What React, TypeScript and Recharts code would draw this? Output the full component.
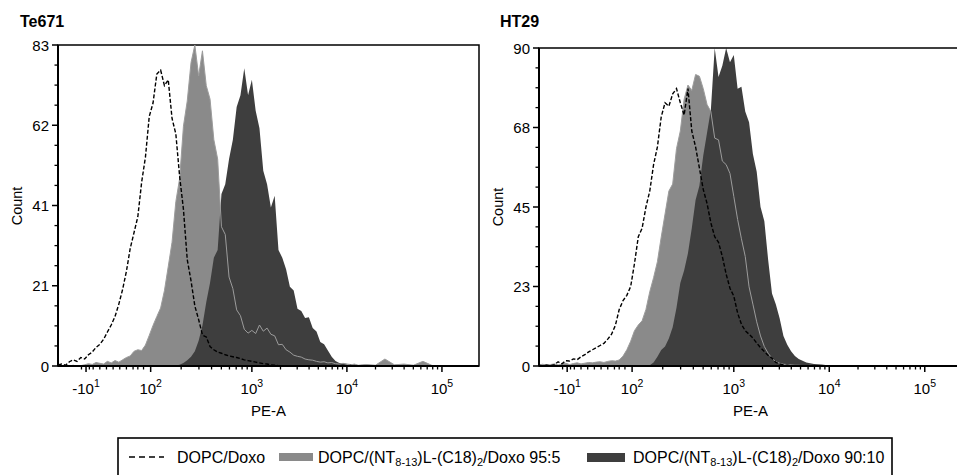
import React from "react";
import { ComposedChart, Area, Line, XAxis, YAxis, ReferenceArea } from "recharts";

const FONT = "'Liberation Sans', Arial, Helvetica, sans-serif";

// display position of each histogram bin (decade units of the PE-A axis)
const binPos = [
  0.96, 1.0, 1.04, 1.08, 1.12, 1.16, 1.2, 1.24, 1.28, 1.32,
  1.36, 1.4, 1.44, 1.48, 1.52, 1.56, 1.6, 1.64, 1.68, 1.72,
  1.76, 1.8, 1.84, 1.88, 1.92, 1.96, 2.0, 2.04, 2.08, 2.12,
  2.16, 2.2, 2.24, 2.28, 2.32, 2.36, 2.4, 2.44, 2.48, 2.52,
  2.56, 2.6, 2.64, 2.68, 2.72, 2.76, 2.8, 2.84, 2.88, 2.92,
  2.96, 3.0, 3.04, 3.08, 3.12, 3.16, 3.2, 3.24, 3.28, 3.32,
  3.36, 3.4, 3.44, 3.48, 3.52, 3.56, 3.6, 3.64, 3.68, 3.72,
  3.76, 3.8, 3.84, 3.88, 3.92, 3.96, 4.0, 4.04, 4.08, 4.12,
  4.16, 4.2, 4.3, 4.4, 4.5, 4.6, 4.7, 4.8, 4.9, 5.0,
  5.1, 5.2, 5.3, 5.39,
];

// Te671 counts
const te671Doxo = [
  0.3, 0.5, 0.2, 1.1, 1.6, 1.2, 2.2, 1.8, 2.9, 3.6,
  4.8, 5.6, 6.9, 8.8, 10.6, 12.8, 16.0, 19.8, 24.5, 30.4,
  34.5, 38.6, 47.5, 54.0, 64.5, 68.0, 75.5, 76.5, 72.5, 74.0,
  64.0, 60.0, 49.0, 40.5, 27.5, 22.0, 15.5, 12.0, 8.0, 7.5,
  5.0, 4.2, 3.6, 3.3, 2.9, 2.6, 2.4, 2.2, 1.9, 1.6,
  1.4, 1.2, 1.0, 0.8, 0.6, 0.5, 0.3, 0.2, 0.1, 0,
  null, null, null, null, null, null, null, null, null, null,
  null, null, null, null, null, null, null, null, null, null,
  null, null, null, null, null, null, null, null, null, null,
  null, null, null, null,
];
const te671Mix95 = [
  0, 0, 0, 0, 0.2, 0, 0.1, 0.3, 0.6, 0.4,
  0.9, 0.7, 0.5, 1.2, 0.8, 1.4, 1.0, 1.6, 2.2, 2.6,
  3.8, 4.2, 4.0, 5.4, 7.9, 10.5, 12.8, 15.0, 19.5, 25.7,
  32.0, 42.5, 48.5, 62.0, 68.5, 78.5, 83.0, 75.0, 81.5, 72.5,
  69.0, 58.5, 53.5, 36.0, 34.0, 23.0, 20.0, 14.5, 13.0, 9.5,
  8.5, 9.2, 8.4, 10.6, 9.0, 9.8, 8.2, 7.8, 5.5, 5.6,
  4.2, 3.6, 2.8, 2.5, 2.3, 1.8, 1.6, 1.5, 1.2, 1.0,
  1.1, 0.8, 0.9, 0.6, 0.5, 0.7, 0.4, 0.3, 0.5, 0.2,
  0.3, 0.4, 0.2, 1.8, 0.3, 0.5, 0.2, 1.2, 0.1, 0,
  0, 0, 0, 0,
];
const te671Mix90 = [
  0, 0, 0, 0, 0, 0, 0, 0, 0, 0,
  0, 0, 0, 0, 0, 0, 0, 0, 0, 0,
  0, 0, 0, 0, 0, 0, 0.1, 0, 0.2, 0.1,
  0.2, 0.1, 0.3, 0.8, 1.5, 2.4, 3.8, 6.5, 10.5, 16.5,
  21.5, 28.0, 30.0, 44.5, 47.0, 53.5, 58.5, 67.0, 70.0, 77.0,
  70.0, 74.0, 66.0, 61.5, 50.5, 47.0, 41.0, 44.0, 30.0, 28.0,
  25.0, 20.5, 19.5, 14.8, 14.2, 12.4, 12.6, 9.8, 8.9, 6.2,
  5.6, 4.0, 2.4, 1.3, 0.8, 0.7, 0.6, 0.5, 0.3, 0.2,
  0.1, 0.1, 0, 0, 0, 0, 0, 0, 0, 0,
  0, 0, 0, 0,
];

// HT29 counts
const ht29Doxo = [
  0.2, 0, 0.3, 0.1, 0.4, 1.2, 0.6, 1.5, 1.4, 2.0,
  1.8, 2.6, 3.2, 4.0, 4.6, 5.2, 5.8, 6.4, 7.6, 9.0,
  11.5, 16.0, 18.5, 20.0, 22.5, 29.0, 36.6, 39.0, 45.0, 49.5,
  57.0, 62.0, 70.5, 74.5, 73.5, 77.0, 78.5, 74.5, 71.0, 78.5,
  66.5, 62.0, 56.0, 50.0, 46.0, 40.5, 36.6, 35.0, 31.0, 26.0,
  22.0, 19.8, 15.0, 11.8, 10.0, 9.0, 7.9, 6.5, 5.2, 4.1,
  3.0, 2.2, 1.0, 0.6, 0.3, 0.2, 0.1, null, null, null,
  null, null, null, null, null, null, null, null, null, null,
  null, null, null, null, null, null, null, null, null, null,
  null, null, null, null,
];
const ht29Mix95 = [
  0.3, 0.5, 0.2, 0.4, 0.6, 0.3, 0.5, 0.8, 0.4, 0.7,
  0.9, 0.6, 0.8, 1.0, 0.9, 1.1, 1.2, 1.0, 1.3, 1.5,
  1.4, 1.7, 2.8, 4.6, 7.0, 10.0, 11.6, 12.8, 16.0, 21.0,
  25.0, 29.5, 36.5, 43.0, 49.5, 51.5, 61.5, 66.5, 75.5, 79.5,
  78.0, 82.5, 82.0, 78.5, 74.0, 72.0, 64.5, 64.0, 58.0, 57.0,
  54.5, 48.0, 41.5, 36.0, 31.0, 22.4, 17.5, 12.5, 8.5, 5.5,
  3.6, 2.2, 1.2, 0.8, 0.5, 0.4, 0.3, 0.2, 0.2, 0.1,
  0.1, 0.2, 0.1, 0.1, 0, 0.1, 0, 0, 0, 0,
  0, 0, 0, 0, 0, 0, 0, 0, 0, 0,
  0, 0, 0, 0,
];
const ht29Mix90 = [
  0, 0, 0, 0, 0, 0, 0, 0, 0, 0,
  0, 0, 0, 0, 0, 0, 0, 0, 0, 0,
  0, 0, 0, 0, 0, 0, 0, 0, 0, 0.2,
  1.0, 2.6, 4.5, 5.5, 7.8, 11.0, 16.5, 23.5, 27.0, 31.9,
  39.0, 47.0, 51.0, 59.5, 66.0, 72.5, 90.0, 81.8, 85.0, 90.0,
  86.0, 88.0, 78.5, 79.0, 72.0, 69.0, 60.0, 55.0, 45.0, 41.0,
  30.0, 20.5, 17.5, 13.5, 8.5, 6.0, 4.2, 2.8, 2.0, 1.5,
  1.0, 0.8, 0.6, 0.5, 0.4, 0.3, 0.2, 0.2, 0.1, 0,
  0, 0, 0, 0, 0, 0, 0, 0, 0, 0,
  0, 0, 0, 0,
];

// axis ticks
const xDomain = [0.96, 5.39];
const xMajorTicks = [1.255, 1.935, 3, 4, 5];
const xTickBase = ["-10", "10", "10", "10", "10"];
const xTickExp = ["1", "2", "3", "4", "5"];
const xMinorTicks = [
  1.207, 1.29, 1.33, 1.4, 1.47, 1.54, 1.61, 1.68, 1.75, 1.8, 1.86,
  2.256, 2.443, 2.576, 2.679, 2.764, 2.835, 2.897, 2.951,
  3.301, 3.477, 3.602, 3.699, 3.778, 3.845, 3.903, 3.954,
  4.301, 4.477, 4.602, 4.699, 4.778, 4.845, 4.903, 4.954,
];

const teYMajor = [0, 20.75, 41.5, 62.25, 83];
const teYLabels = ["0", "21", "41", "62", "83"];
const teYMinor = [5.19, 10.38, 15.56, 25.94, 31.13, 36.31, 46.69, 51.88, 57.06, 67.44, 72.63, 77.81];
const htYMajor = [0, 22.5, 45, 67.5, 90];
const htYLabels = ["0", "23", "45", "68", "90"];
const htYMinor = [5.63, 11.25, 16.88, 28.13, 33.75, 39.38, 50.63, 56.25, 61.88, 73.13, 78.75, 84.38];

const GRAY = "#8a8a8a";
const DARK = "#3e3e3e";
const GRAY_EDGE = "#9c9c9c";

const XTick = (props: any) => {
  const { x, y, payload } = props;
  const idx = xMajorTicks.indexOf(payload.value);
  if (idx < 0) {
    return <line x1={x} x2={x} y1={y} y2={y + 3.5} stroke="#000" strokeWidth={1.3} />;
  }
  return (
    <g>
      <line x1={x} x2={x} y1={y} y2={y + 6} stroke="#000" strokeWidth={1.5} />
      <text x={x} y={y + 28} textAnchor="middle" fontSize={15} fontFamily={FONT} fill="#000">
        <tspan>{xTickBase[idx]}</tspan>
        <tspan fontSize={10.5} dy={-7.5}>{xTickExp[idx]}</tspan>
      </text>
    </g>
  );
};

const makeYTick = (major: number[], labels: string[]) => (props: any) => {
  const { x, y, payload } = props;
  const idx = major.indexOf(payload.value);
  if (idx < 0) {
    return <line x1={x - 3.5} x2={x} y1={y} y2={y} stroke="#000" strokeWidth={1.3} />;
  }
  return (
    <g>
      <line x1={x - 6} x2={x} y1={y} y2={y} stroke="#000" strokeWidth={1.5} />
      <text x={x - 9} y={y + 5.5} textAnchor="end" fontSize={15} fontFamily={FONT} fill="#000">
        {labels[idx]}
      </text>
    </g>
  );
};

type PanelProps = {
  doxo: (number | null)[];
  mix95: number[];
  mix90: number[];
  yMax: number;
  yMajor: number[];
  yLabels: string[];
  yMinor: number[];
  width: number;
  yAxisWidth: number;
  top: number;
  right: number;
};

const Panel = (p: PanelProps) => {
  const data = binPos.map((x, i) => ({ x, doxo: p.doxo[i], g95: p.mix95[i], g90: p.mix90[i] }));
  const xTicks = [...xMajorTicks, ...xMinorTicks].sort((a, b) => a - b);
  const yTicks = [...p.yMajor, ...p.yMinor].sort((a, b) => a - b);
  return (
    <ComposedChart
      width={p.width}
      height={475}
      data={data}
      margin={{ top: p.top, right: p.right, bottom: 79, left: 0 }}
    >
      <XAxis
        dataKey="x"
        type="number"
        domain={xDomain}
        allowDataOverflow
        ticks={xTicks}
        interval={0}
        tickSize={0}
        tickMargin={0}
        tickLine={false}
        tick={XTick}
        height={30}
        axisLine={{ stroke: "#000", strokeWidth: 2 }}
      />
      <YAxis
        type="number"
        domain={[0, p.yMax]}
        allowDataOverflow
        ticks={yTicks}
        interval={0}
        tickSize={0}
        tickMargin={0}
        tickLine={false}
        tick={makeYTick(p.yMajor, p.yLabels)}
        width={p.yAxisWidth}
        axisLine={{ stroke: "#000", strokeWidth: 2 }}
      />
      <Area
        dataKey="g95"
        type="linear"
        fill={GRAY}
        fillOpacity={1}
        stroke="none"
        dot={false}
        activeDot={false}
        isAnimationActive={false}
      />
      <Area
        dataKey="g90"
        type="linear"
        fill={DARK}
        fillOpacity={1}
        stroke="none"
        dot={false}
        activeDot={false}
        isAnimationActive={false}
      />
      <Line
        dataKey="g95"
        type="linear"
        stroke={GRAY_EDGE}
        strokeWidth={1}
        dot={false}
        activeDot={false}
        isAnimationActive={false}
      />
      <Line
        dataKey="doxo"
        type="linear"
        stroke="#000"
        strokeWidth={1.4}
        strokeDasharray="4 2"
        dot={false}
        activeDot={false}
        isAnimationActive={false}
      />
      <ReferenceArea
        x1={xDomain[0]}
        x2={xDomain[1]}
        y1={0}
        y2={p.yMax}
        fill="none"
        fillOpacity={0}
        stroke="#000"
        strokeWidth={1.5}
        ifOverflow="visible"
      />
    </ComposedChart>
  );
};

const Sub = ({ children }: { children: string }) => (
  <>
    <tspan fontSize={11} dy={3}>{children}</tspan>
  </>
);

export default function App() {
  return (
    <div
      style={{
        position: "absolute",
        left: 0,
        top: 0,
        width: 957,
        height: 475,
        overflow: "hidden",
        background: "#fff",
        fontFamily: FONT,
      }}
    >
      <div style={{ position: "absolute", left: 0, top: 0 }}>
        <Panel
          doxo={te671Doxo}
          mix95={te671Mix95}
          mix90={te671Mix90}
          yMax={83}
          yMajor={teYMajor}
          yLabels={teYLabels}
          yMinor={teYMinor}
          width={490}
          yAxisWidth={58}
          top={45}
          right={11}
        />
      </div>
      <div style={{ position: "absolute", left: 477, top: 0 }}>
        <Panel
          doxo={ht29Doxo}
          mix95={ht29Mix95}
          mix90={ht29Mix90}
          yMax={90}
          yMajor={htYMajor}
          yLabels={htYLabels}
          yMinor={htYMinor}
          width={485}
          yAxisWidth={62}
          top={48}
          right={0}
        />
      </div>
      <svg
        width={957}
        height={475}
        style={{ position: "absolute", left: 0, top: 0, pointerEvents: "none" }}
        fontFamily={FONT}
      >
        <text x={20} y={26.5} fontSize={16} fontWeight="bold" fill="#000">Te671</text>
        <text x={500} y={26.5} fontSize={16} fontWeight="bold" fill="#000">HT29</text>
        <text x={17} y={206} fontSize={14.5} fill="#000" textAnchor="middle" dominantBaseline="central" transform="rotate(-90 17 206)">Count</text>
        <text x={498} y={207} fontSize={14.5} fill="#000" textAnchor="middle" dominantBaseline="central" transform="rotate(-90 498 207)">Count</text>
        <text x={268.5} y={416} fontSize={15} fill="#000" textAnchor="middle">PE-A</text>
        <text x={750.5} y={416} fontSize={15} fill="#000" textAnchor="middle">PE-A</text>

        <rect x={118} y={438} width={774} height={60} fill="none" stroke="#000" strokeWidth={1.6} />
        <line x1={129} x2={164} y1={457} y2={457} stroke="#000" strokeWidth={1.5} strokeDasharray="6 4" />
        <text x={177} y={463} fontSize={16} fill="#000">DOPC/Doxo</text>
        <rect x={279} y={453} width={34} height={8} fill={GRAY} />
        <text x={318} y={463} fontSize={16} fill="#000">
          DOPC/(NT<Sub>8-13</Sub><tspan dy={-3}>)L-(C18)</tspan><Sub>2</Sub><tspan dy={-3}>/Doxo 95:5</tspan>
        </text>
        <rect x={587} y={453} width={38} height={9} fill={DARK} />
        <text x={633} y={463} fontSize={16} fill="#000">
          DOPC/(NT<Sub>8-13</Sub><tspan dy={-3}>)L-(C18)</tspan><Sub>2</Sub><tspan dy={-3}>/Doxo 90:10</tspan>
        </text>
      </svg>
    </div>
  );
}
